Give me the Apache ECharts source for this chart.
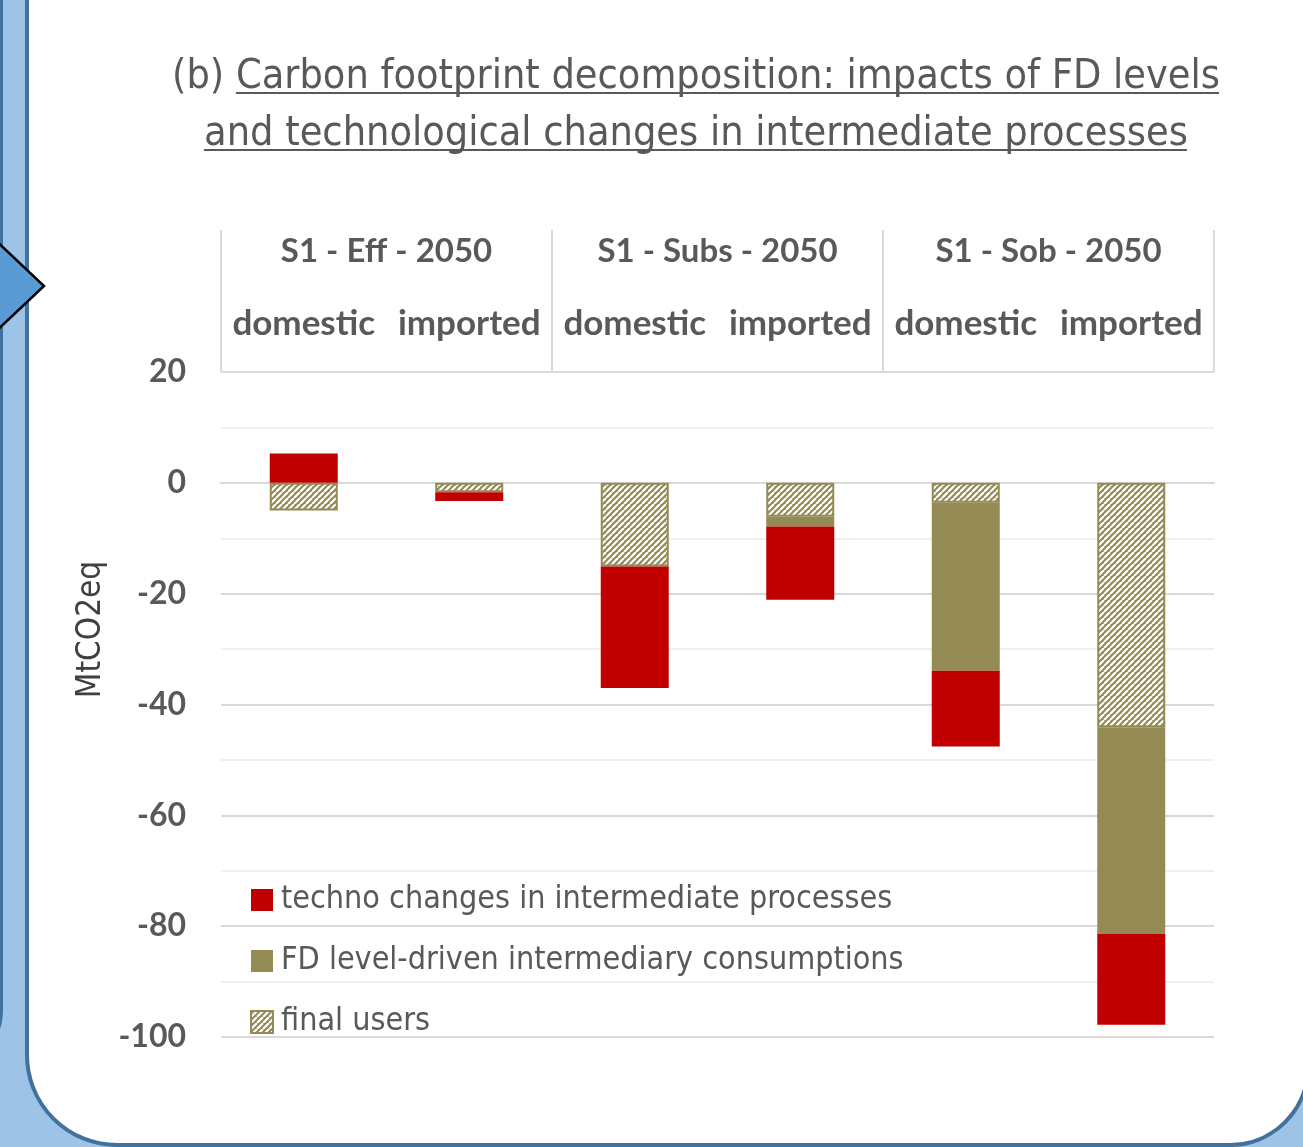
<!DOCTYPE html>
<html>
<head>
<meta charset="utf-8">
<script src="https://cdn.jsdelivr.net/npm/echarts@6/dist/echarts.min.js"></script>
<style>
  html, body { margin: 0; padding: 0; }
  body { width: 1303px; height: 1147px; background: #9dc3e6; position: relative; overflow: hidden; }
  #leftPanel { position: absolute; left: -200px; top: -20px; width: 203px; height: 1090px; box-sizing: border-box;
    border: 3px solid #41719c; border-radius: 0 0 60px 0; background: #9dc3e6; }
  #panel { position: absolute; left: 25px; top: -20px; width: 1285px; height: 1167px; box-sizing: border-box;
    border: 4px solid #41719c; border-radius: 0 0 80px 92px; background: #fff; }
  #chart { position: absolute; left: 0; top: 0; width: 1303px; height: 1147px; }
</style>
</head>
<body>
<div id="leftPanel"></div>
<div id="panel"></div>
<div id="chart"></div>
<script>
// categories
var groups = ['S1 - Eff - 2050', 'S1 - Subs - 2050', 'S1 - Sob - 2050'];
var origins = ['domestic', 'imported', 'domestic', 'imported', 'domestic', 'imported'];
// MtCO2eq
var finalUsers = [-5.0, -1.7, -15.1, -6.1, -3.6, -44.1];
var fdLevel = [0, 0, 0, -1.8, -30.3, -37.3];
var technoChanges = [5.3, -1.6, -21.9, -13.2, -13.7, -16.4];

var grey = '#595959';
var olive = '#948a54';
var red = '#c00000';

var titlePrefix = '(b) ';
var titleLine1 = 'Carbon footprint decomposition: impacts of FD levels';
var titleLine2 = 'and technological changes in intermediate processes';
var titleFont = 'DejaVu Sans Condensed';
var titleSize = 41;
var titleCenter = 691;

// hatch pattern for "final users"
var hatch = document.createElement('canvas');
hatch.width = 6; hatch.height = 6;
var ctx = hatch.getContext('2d');
ctx.fillStyle = olive;
ctx.fillRect(0, 0, 6, 6);
ctx.strokeStyle = '#ffffff';
ctx.lineWidth = 2.2;
for (var k = -6; k <= 12; k += 6) {
  ctx.beginPath();
  ctx.moveTo(k, 6);
  ctx.lineTo(k + 6, 0);
  ctx.stroke();
}

// underline positions from the real text widths
var mctx = document.createElement('canvas').getContext('2d');
mctx.font = titleSize + 'px "' + titleFont + '"';
var w1 = mctx.measureText(titlePrefix + titleLine1).width;
var wp = mctx.measureText(titlePrefix).width;
var w2 = mctx.measureText(titleLine2).width;
var u1x = titleCenter - w1 / 2 + wp, u1e = titleCenter + w1 / 2;
var u2x = titleCenter - w2 / 2, u2e = titleCenter + w2 / 2;

var myChart = echarts.init(document.getElementById('chart'));

var option = {
  backgroundColor: 'transparent',
  title: {
    text: titlePrefix + titleLine1 + '\n' + titleLine2,
    left: titleCenter,
    top: 44,
    textAlign: 'center',
    textStyle: {
      fontFamily: titleFont,
      fontWeight: 'normal',
      fontSize: titleSize,
      lineHeight: 57,
      color: grey
    }
  },
  graphic: [
    { type: 'line', shape: { x1: u1x + 5, y1: 93, x2: u1e + 4, y2: 93 }, style: { stroke: grey, lineWidth: 2 } },
    { type: 'line', shape: { x1: u2x + 5, y1: 150, x2: u2e + 4, y2: 150 }, style: { stroke: grey, lineWidth: 2 } },
    {
      type: 'polygon', z: 100,
      shape: { points: [[-10, 235], [44, 286], [-10, 337]] },
      style: { fill: '#5b9bd5', stroke: '#000', lineWidth: 2.5 }
    }
  ],
  legend: {
    orient: 'vertical',
    left: 245,
    top: 875,
    itemWidth: 22,
    itemHeight: 22,
    itemGap: 21,
    icon: 'rect',
    data: ['techno changes in intermediate processes', 'FD level-driven intermediary consumptions', 'final users'],
    textStyle: { fontFamily: 'DejaVu Sans Condensed', fontSize: 32, lineHeight: 40, color: grey, padding: [0, 0, 0, 3] }
  },
  grid: { left: 221, right: 89, top: 372, bottom: 110 },
  xAxis: [
    {
      type: 'category',
      data: origins,
      position: 'top',
      axisLine: { show: true, lineStyle: { color: '#d9d9d9', width: 2 } },
      axisTick: { show: false },
      axisLabel: { margin: 31, fontFamily: 'Lato', fontWeight: 'bold', fontSize: 35, color: grey, interval: 0 }
    },
    {
      type: 'category',
      data: groups,
      position: 'top',
      axisLine: { show: false },
      axisTick: { show: true, length: 142, lineStyle: { color: '#d9d9d9', width: 2 } },
      axisLabel: { margin: 104, fontFamily: 'Lato', fontWeight: 'bold', fontSize: 33, color: grey, interval: 0 }
    }
  ],
  yAxis: {
    type: 'value',
    min: -100,
    max: 20,
    interval: 10,
    name: 'MtCO2eq',
    nameLocation: 'middle',
    nameRotate: 90,
    nameGap: 110,
    nameTextStyle: { fontFamily: 'DejaVu Sans Condensed', fontSize: 33, color: '#404040', padding: [0, 0, 0, 150] },
    axisLine: { show: false },
    axisTick: { show: false },
    axisLabel: {
      margin: 35,
      fontFamily: 'Lato',
      fontWeight: 'bold',
      fontSize: 32,
      color: grey,
      formatter: function (v) { return v % 20 === 0 ? String(v) : ''; }
    },
    splitLine: { lineStyle: { color: ['#d9d9d9', '#f0f0f0'], width: 2 } }
  },
  series: [
    {
      name: 'final users',
      type: 'bar',
      stack: 'total',
      barWidth: 68,
      data: finalUsers,
      itemStyle: { color: { image: hatch, repeat: 'repeat' }, borderColor: olive, borderWidth: 2 }
    },
    {
      name: 'FD level-driven intermediary consumptions',
      type: 'bar',
      stack: 'total',
      barWidth: 68,
      data: fdLevel,
      itemStyle: { color: olive }
    },
    {
      name: 'techno changes in intermediate processes',
      type: 'bar',
      stack: 'total',
      barWidth: 68,
      data: technoChanges,
      itemStyle: { color: red }
    }
  ]
};

myChart.setOption(option);
</script>
</body>
</html>
